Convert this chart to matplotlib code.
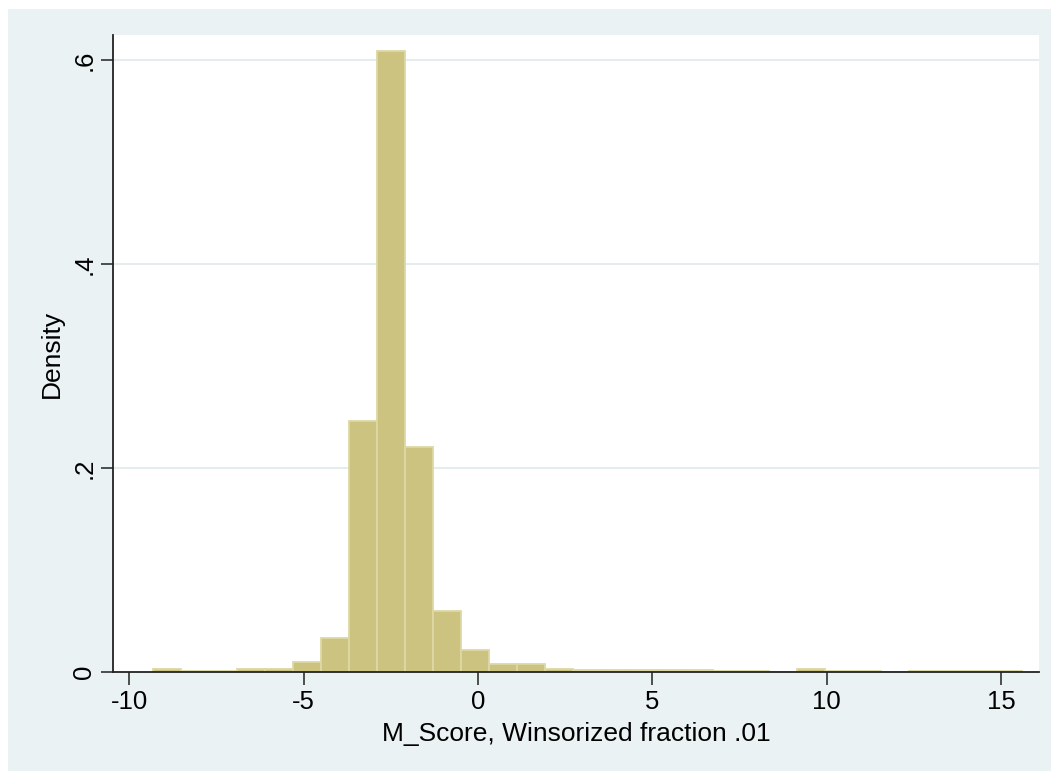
import numpy as np
import matplotlib
matplotlib.use("Agg")
import matplotlib.pyplot as plt
from matplotlib.patches import Rectangle

plt.rcParams['font.family'] = ['Liberation Sans', 'DejaVu Sans']
plt.rcParams['axes.unicode_minus'] = False

# данные гистограммы (плотность по корзинам)
bin_start = -9.32
bin_width = 0.8035
density = [0.0033, 0.0013, 0.0013, 0.0030, 0.0030, 0.0098, 0.0333, 0.2458,
           0.6085, 0.2203, 0.0595, 0.0213, 0.0078, 0.0078, 0.0034, 0.0024,
           0.0024, 0.0024, 0.0024, 0.0024, 0.0014, 0.0014, 0.0, 0.0027,
           0.0014, 0.0014, 0.0, 0.0014, 0.0014, 0.0014, 0.0014]
x_ticks = [-10, -5, 0, 5, 10, 15]
y_ticks = [0, 0.2, 0.4, 0.6]
y_labels = ['0', '.2', '.4', '.6']

bg = '#EAF2F3'
fig = plt.figure(figsize=(10.51, 7.71), dpi=100, facecolor='white')
# фон графика (как в Stata)
fig.patches.append(Rectangle((8 / 1051, 0), 1 - 8 / 1051, 1 - 9 / 771,
                             transform=fig.transFigure, facecolor=bg,
                             edgecolor='none', zorder=-10))

ax = fig.add_axes([113 / 1051, 99 / 771, 926 / 1051, 637 / 771])
ax.set_facecolor('white')

edges = bin_start + bin_width * np.arange(len(density))
ax.bar(edges, density, width=bin_width, align='edge',
       color='#CBC37F', edgecolor='#DDD8A4', linewidth=1.3, zorder=3)

# сетка
for yv in y_ticks[1:]:
    ax.axhline(yv, color='#E4ECEE', linewidth=1.5, zorder=1)

ax.set_xlim(-10.467, 16.09)
ax.set_ylim(0, 0.6245)
ax.set_xticks(x_ticks)
ax.set_yticks(y_ticks)
ax.set_yticklabels(y_labels, rotation=90, va='center')

for s in ['top', 'right']:
    ax.spines[s].set_visible(False)
for s in ['left', 'bottom']:
    ax.spines[s].set_color('#222222')
    ax.spines[s].set_linewidth(1.3)
    ax.spines[s].set_zorder(4)

ax.tick_params(axis='both', length=9, width=1.1, color='#222222',
               labelsize=18.5)
ax.tick_params(axis='x', pad=4)
ax.tick_params(axis='y', pad=3)
ax.set_xlabel('M_Score, Winsorized fraction .01', fontsize=19, labelpad=6)
ax.set_ylabel('Density', fontsize=19, labelpad=6)

fig.savefig('out.png', dpi=100, facecolor=fig.get_facecolor())
